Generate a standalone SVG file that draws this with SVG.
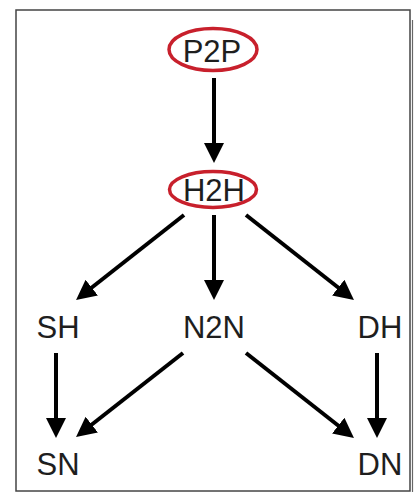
<svg xmlns="http://www.w3.org/2000/svg" width="414" height="492" viewBox="0 0 414 492">
  <style>
    .lbl { font-family: "Liberation Sans", Arial, sans-serif; font-size: 31px; fill: #1e1e1e; text-anchor: middle; }
    .ring { fill: none; stroke: #c8202c; stroke-width: 3.5; }
    .edge { stroke: #000; stroke-width: 4; fill: none; marker-end: url(#head); }
  </style>
  <defs>
    <marker id="head" markerUnits="userSpaceOnUse" markerWidth="20" markerHeight="20" refX="10" refY="10" orient="auto">
      <path d="M0,0 L20,10 L0,20 Z" fill="#000"/>
    </marker>
  </defs>
  <rect width="414" height="492" fill="#fff"/>
  <!-- frame -->
  <rect x="16" y="10" width="394" height="481" fill="none" stroke="#444" stroke-width="1.5"/>
  <line x1="412.5" y1="20" x2="412.5" y2="492" stroke="#666" stroke-width="1.2"/>

  <g id="connectors">
    <line class="edge" x1="214" y1="78" x2="214" y2="153"/>
    <line class="edge" x1="184" y1="215" x2="83.9" y2="293.8"/>
    <line class="edge" x1="214" y1="215" x2="214" y2="290"/>
    <line class="edge" x1="246" y1="215" x2="346.1" y2="293.8"/>
    <line class="edge" x1="56" y1="353" x2="56" y2="428"/>
    <line class="edge" x1="183" y1="353" x2="83.9" y2="430.8"/>
    <line class="edge" x1="246" y1="353" x2="346.1" y2="431.8"/>
    <line class="edge" x1="377" y1="353" x2="377" y2="428"/>
  </g>

  <g id="P2P">
    <ellipse class="ring" cx="213" cy="49.5" rx="44" ry="21"/>
    <text class="lbl" x="212" y="62" font-size="30">P2P</text>
  </g>
  <g id="H2H">
    <ellipse class="ring" cx="213" cy="189.5" rx="43.5" ry="18"/>
    <text class="lbl" x="214" y="201">H2H</text>
  </g>
  <g id="SH">
    <text class="lbl" x="58" y="338">SH</text>
  </g>
  <g id="N2N">
    <text class="lbl" x="214" y="338">N2N</text>
  </g>
  <g id="DH">
    <text class="lbl" x="380" y="338">DH</text>
  </g>
  <g id="SN">
    <text class="lbl" x="58" y="475">SN</text>
  </g>
  <g id="DN">
    <text class="lbl" x="380" y="475">DN</text>
  </g>
</svg>
